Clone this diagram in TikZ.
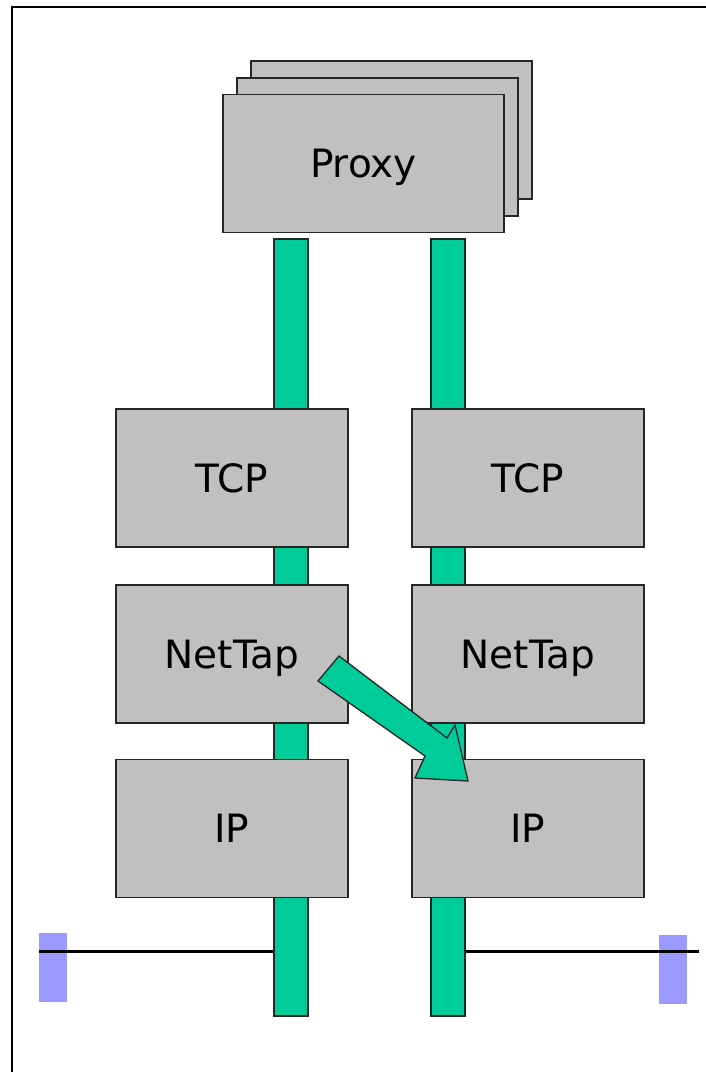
\documentclass[tikz,border=0pt]{standalone}
\usepackage{fontspec}
\setmainfont{DejaVu Sans}
\definecolor{boxgray}{RGB}{192,192,192}
\definecolor{pipegreen}{RGB}{0,204,153}
\definecolor{wireblue}{RGB}{153,153,255}
\tikzset{
  labelfont/.style={font=\fontsize{39}{44}\selectfont, text height=28.4pt, text depth=0pt},
  layer/.style={draw=black!85, line width=1.8pt, fill=boxgray, minimum width=232pt,
    minimum height=138pt, inner sep=0pt, labelfont},
  proxybox/.style={draw=black!85, line width=1.8pt, fill=boxgray, minimum width=281pt,
    minimum height=138pt, inner sep=0pt, labelfont},
  pipe/.style={draw=black!85, line width=1.6pt, fill=pipegreen, minimum width=34pt,
    minimum height=777pt, inner sep=0pt},
  port/.style={fill=wireblue, minimum width=28pt, minimum height=69pt, inner sep=0pt},
  wire/.style={draw=black, line width=3pt},
  blockarrow/.style={draw=black!85, line width=1.3pt, fill=pipegreen, line join=miter}
}
\begin{document}
\begin{tikzpicture}[x=1pt, y=-1pt]
  \useasboundingbox (0,0) rectangle (706,1072);
  \fill[white] (0,0) rectangle (706,1072);
  % outer frame (left and top edges)
  \draw[line width=2.6pt] (12,1072) -- (12,7) -- (706,7);

  % data pipes running through the stacks
  \node[pipe] (pipeL) at (291,627.5) {};
  \node[pipe] (pipeR) at (448,627.5) {};

  % proxy, drawn as a stack of three cards
  \node[proxybox] (proxy3) at (391.5,130) {};
  \node[proxybox] (proxy2) at (377.5,147) {};
  \node[proxybox] (proxy1) at (363.5,163.5) {Proxy};

  % left protocol stack
  \node[layer] (tcpL) at (232,478) {TCP};
  \node[layer] (tapL) at (232,654) {NetTap};
  \node[layer] (ipL)  at (232,828.5) {IP};

  % right protocol stack
  \node[layer] (tcpR) at (528,478) {TCP};
  \node[layer] (tapR) at (528,654) {NetTap};
  \node[layer] (ipR)  at (528,828.5) {IP};

  % network attachments
  \node[port] (portL) at (53,967.5) {};
  \node[port] (portR) at (673,969.5) {};
  \coordinate (wireEndR) at (699,951);
  \draw[wire] (portL.west |- 0,951) -- (pipeL.west |- 0,951);
  \draw[wire] (pipeR.east |- 0,951) -- (wireEndR);

  % redirection from the left NetTap into the right IP layer
  \draw[blockarrow] (318,681) -- (339,656) -- (447,738) -- (455,725)
    -- (468,781) -- (415,778) -- (425,756) -- cycle;
\end{tikzpicture}
\end{document}
